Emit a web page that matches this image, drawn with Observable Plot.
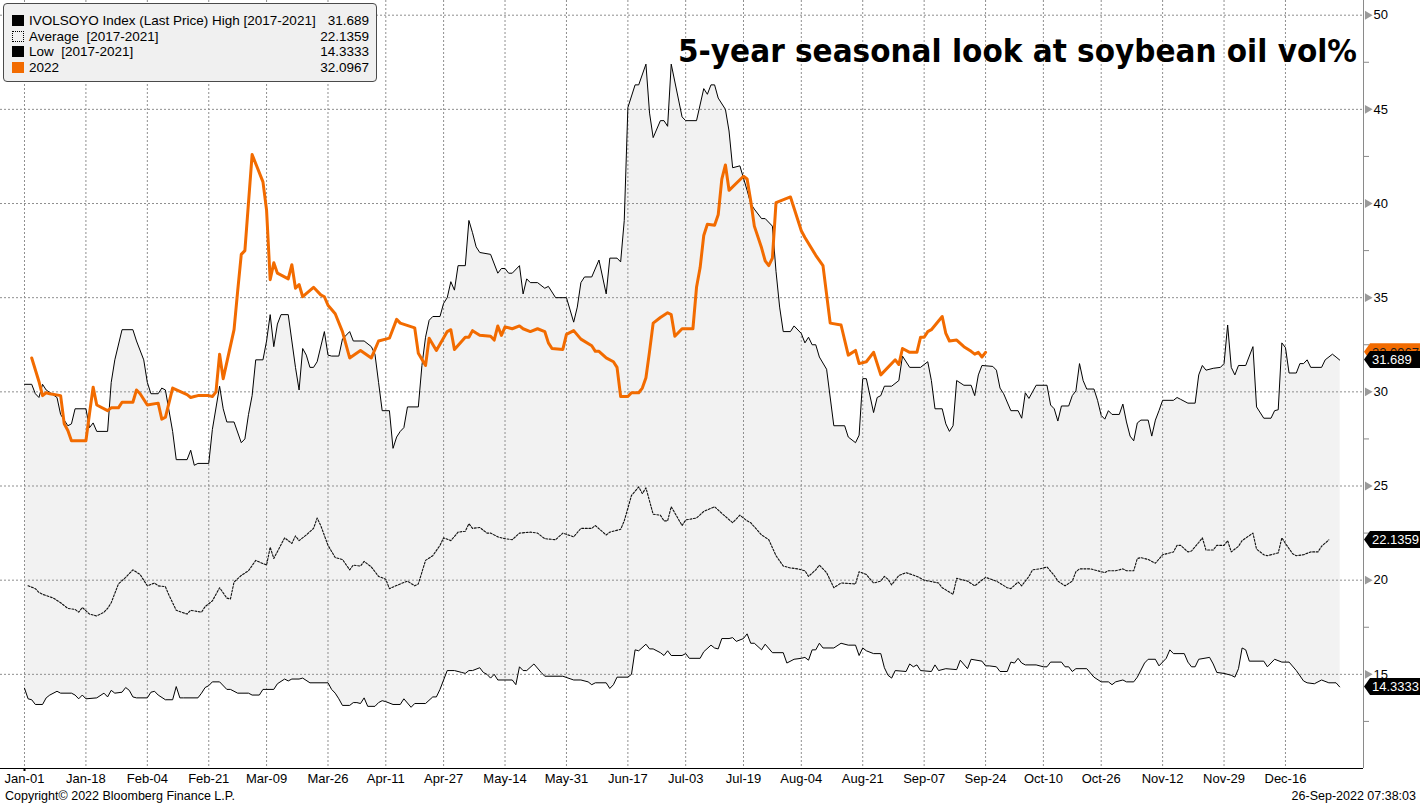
<!DOCTYPE html>
<html>
<head>
<meta charset="utf-8">
<script src="https://cdn.jsdelivr.net/npm/d3@7"></script>
<script src="https://cdn.jsdelivr.net/npm/@observablehq/plot@0.6"></script>
<style>
  html, body { margin: 0; padding: 0; background: #fff; }
  #wrap { position: relative; width: 1420px; height: 804px; overflow: hidden; font-family: "Liberation Sans", Arial, sans-serif; }
  #legend { position: absolute; left: 3px; top: 3px; width: 372px; height: 77px; background: #f0f0f0; border: 1px solid #4a4a4a; border-radius: 4px; box-sizing: content-box; }
  #legend .row { position: absolute; left: 0; right: 0; height: 15.5px; font-size: 13.5px; line-height: 15.5px; color: #000; white-space: pre; }
  #legend .sw { position: absolute; left: 8px; top: 2px; width: 12px; height: 11px; box-sizing: border-box; }
  #legend .lab { position: absolute; left: 25px; top: 0; }
  #legend .val { position: absolute; right: 7px; top: 0; }
</style>
</head>
<body>
<div id="wrap"></div>
<script>
// ---------- data (day-of-year index, value) ----------
const tickDays = [0,17,34,51,67,84,100,116,133,150,167,183,199,215,232,249,266,282,298,315,332,349];
const tickLabels = ["Jan-01","Jan-18","Feb-04","Feb-21","Mar-09","Mar-26","Apr-11","Apr-27","May-14","May-31","Jun-17","Jul-03","Jul-19","Aug-04","Aug-21","Sep-07","Sep-24","Oct-10","Oct-26","Nov-12","Nov-29","Dec-16"];
const yMajor = [15,20,25,30,35,40,45,50];
const yMinor = [12.5,17.5,22.5,27.5,32.5,37.5,42.5,47.5];

const seriesNames = ["IVOLSOYO Index (Last Price) High [2017-2021]", "Average  [2017-2021]", "Low  [2017-2021]", "2022"];
const lastValues = ["31.689", "22.1359", "14.3333", "32.0967"];

const high5y = [[0,30.4],[2,30.4],[3,29.9],[4,29.7],[5,30.4],[6,30.1],[9,29.7],[10,28.8],[12,28.2],[13,28.3],[14,29.1],[17,29.1],[18,28.1],[19,28.35],[20,27.9],[23,27.9],[24,30.5],[25,31.7],[27,33.3],[30,33.3],[31,32.7],[33,31.7],[34,30.5],[35,29.9],[37,29.9],[38,30.2],[39,30.1],[41,27.9],[42,26.4],[45,26.4],[46,26.9],[47,26.1],[48,26.2],[51,26.2],[52,28.0],[54,30.3],[55,29.1],[56,28.4],[58,28.4],[60,27.3],[61,27.5],[62,28.8],[63,29.8],[64,31.7],[66,31.7],[67,32.7],[68,34.1],[69,32.4],[70,33.6],[71,34.1],[73,34.1],[74,32.7],[75,31.3],[76,30.1],[77,32.3],[78,31.95],[79,31.3],[80,31.3],[81,31.6],[83,33.2],[84,31.95],[85,31.9],[87,31.9],[88,32.8],[90,33.2],[91,32.7],[94,32.7],[96,32.4],[97,32.0],[98,30.5],[99,29.0],[101,29.0],[102,27.0],[103,27.6],[104,27.9],[105,28.1],[106,29.2],[109,29.2],[110,31.4],[111,32.9],[112,33.8],[113,34.0],[115,34.0],[116,34.7],[117,35.0],[118,35.85],[119,35.4],[120,36.7],[122,36.7],[123,39.1],[124,38.45],[125,37.7],[126,37.4],[129,37.3],[131,36.3],[132,36.55],[133,36.55],[134,36.3],[135,36.3],[137,36.7],[138,35.2],[139,36.0],[140,35.8],[142,35.8],[144,35.5],[145,35.6],[147,35.0],[150,35.0],[152,33.7],[153,34.5],[154,35.8],[155,36.1],[157,36.1],[159,37.0],[161,35.2],[162,37.1],[164,37.1],[165,36.9],[166,39.1],[167,45.1],[169,46.3],[170,46.3],[172,47.4],[173,44.8],[174,43.5],[176,44.4],[177,44.4],[178,44.1],[179,47.4],[182,44.6],[183,44.4],[186,44.4],[188,46.1],[189,45.8],[190,46.3],[191,46.3],[192,45.6],[194,45.0],[195,43.85],[196,41.9],[198,42.0],[200,40.7],[201,40.0],[202,39.7],[204,39.2],[205,39.2],[207,38.8],[208,36.4],[209,34.5],[210,33.2],[212,33.2],[213,33.5],[215,33.1],[216,32.6],[217,32.9],[218,32.5],[219,32.5],[220,31.85],[222,31.2],[224,28.2],[227,28.2],[228,27.6],[230,27.3],[231,27.7],[232,30.7],[233,30.7],[235,28.9],[236,29.7],[237,29.8],[238,30.3],[240,30.3],[242,30.6],[243,31.9],[245,31.3],[248,31.3],[250,31.6],[251,30.6],[252,29.1],[254,29.1],[255,28.3],[256,27.9],[257,28.2],[258,30.6],[260,30.35],[262,30.35],[263,29.8],[264,30.9],[265,31.4],[268,31.35],[269,31.15],[270,30.2],[271,29.9],[273,29.0],[275,29.0],[276,28.6],[277,29.95],[278,29.65],[280,30.35],[283,30.35],[284,29.3],[285,29.1],[286,28.45],[287,29.25],[289,29.25],[290,29.8],[291,30.05],[292,31.5],[293,30.6],[294,30.15],[296,30.15],[297,29.55],[298,28.75],[299,28.55],[300,29.0],[301,28.8],[303,28.8],[304,29.35],[305,28.4],[306,27.65],[307,27.4],[308,28.35],[309,28.5],[311,28.5],[312,27.65],[313,28.5],[314,29.0],[315,29.55],[318,29.55],[319,29.7],[320,29.6],[322,29.4],[324,29.4],[325,30.9],[326,31.4],[327,31.15],[329,31.25],[331,31.3],[332,31.5],[333,33.55],[334,31.3],[335,30.9],[336,31.4],[338,31.4],[340,32.4],[341,29.2],[343,28.6],[345,28.6],[346,29.0],[347,29.05],[348,32.6],[349,32.35],[350,31.0],[352,31.0],[353,31.5],[354,31.5],[355,31.7],[356,31.3],[359,31.3],[360,31.7],[362,32.0],[363,31.85],[364,31.689]];

const low5y = [[0,14.26],[1,13.7],[2,13.65],[3,13.4],[5,13.4],[6,13.75],[7,13.9],[9,14.1],[10,14.0],[13,14.0],[14,13.9],[15,13.7],[16,13.9],[17,13.7],[20,13.75],[22,14.0],[23,13.8],[24,14.15],[25,14.0],[27,14.05],[28,14.3],[29,14.15],[30,13.8],[31,13.75],[34,13.75],[35,14.05],[36,14.1],[37,13.9],[39,13.65],[41,13.65],[42,14.35],[43,13.75],[44,13.75],[48,13.75],[49,14.0],[50,14.3],[51,14.4],[52,14.6],[54,14.6],[56,14.2],[57,14.2],[59,14.0],[62,14.0],[63,13.9],[65,13.9],[66,14.2],[69,14.2],[70,14.5],[72,14.75],[73,14.65],[74,14.75],[76,14.75],[77,14.8],[79,14.55],[84,14.55],[85,14.2],[86,14.0],[87,13.7],[88,13.35],[90,13.35],[91,13.5],[92,13.5],[93,13.45],[94,13.75],[95,13.3],[97,13.3],[98,13.5],[99,13.6],[100,13.55],[102,13.4],[104,13.4],[105,13.7],[107,13.25],[108,13.45],[111,13.45],[113,13.8],[114,13.8],[115,14.2],[117,15.2],[119,15.2],[121,15.1],[122,15.05],[123,15.2],[124,15.2],[126,15.35],[127,15.1],[128,15.0],[129,14.8],[130,15.0],[131,14.7],[135,14.7],[136,14.45],[137,15.4],[138,15.2],[139,15.2],[141,15.55],[143,15.1],[144,14.9],[149,14.9],[152,14.7],[154,14.7],[156,14.6],[157,14.45],[158,14.55],[161,14.55],[162,14.25],[163,14.45],[164,14.85],[167,14.85],[168,15.0],[169,16.3],[170,16.25],[172,16.6],[173,16.35],[174,16.35],[176,16.15],[177,16.0],[178,16.25],[179,16.0],[182,16.0],[183,16.1],[184,15.85],[187,15.85],[188,16.2],[190,16.55],[191,16.4],[192,16.35],[193,16.9],[195,16.9],[196,16.95],[197,16.75],[199,16.9],[200,17.15],[201,16.65],[202,16.65],[204,16.3],[205,16.6],[207,16.15],[210,16.15],[211,15.6],[213,15.8],[215,15.85],[216,15.9],[217,15.75],[218,16.3],[219,16.3],[220,16.65],[221,16.4],[224,16.4],[226,16.65],[228,16.55],[230,16.55],[231,16.0],[232,16.4],[233,16.25],[235,16.1],[237,16.1],[238,15.35],[239,14.95],[240,14.8],[241,15.2],[244,15.15],[245,15.55],[246,15.4],[247,15.5],[248,15.2],[251,15.15],[252,15.5],[253,15.2],[255,15.3],[258,15.25],[259,15.75],[261,15.3],[262,15.8],[265,15.7],[266,15.45],[267,15.45],[269,15.4],[270,15.15],[272,15.15],[273,15.65],[274,15.6],[275,15.85],[276,15.6],[277,15.5],[280,15.5],[282,15.4],[283,15.4],[284,15.65],[287,15.65],[288,15.4],[289,15.4],[290,15.15],[291,15.3],[294,15.3],[296,14.85],[298,14.6],[300,14.6],[301,14.45],[302,14.6],[304,14.7],[305,14.6],[307,14.6],[308,14.85],[310,15.6],[311,15.8],[313,15.8],[314,15.45],[316,15.85],[317,16.3],[318,16.1],[321,16.1],[322,15.65],[323,15.4],[324,15.4],[325,15.8],[328,15.9],[329,15.55],[330,15.1],[332,15.05],[334,14.95],[335,14.85],[336,15.3],[337,16.4],[338,16.3],[339,15.7],[343,15.7],[344,15.4],[346,15.8],[348,15.65],[350,15.65],[352,15.2],[354,14.65],[355,14.55],[357,14.5],[359,14.7],[361,14.55],[363,14.55],[364,14.3333]];

const avg5y = [[1,19.7],[3,19.55],[4,19.35],[5,19.25],[8,19.05],[10,18.8],[12,18.5],[14,18.45],[15,18.3],[16,18.55],[18,18.2],[20,18.1],[22,18.3],[23,18.5],[24,18.8],[26,19.8],[28,20.15],[30,20.55],[32,20.3],[34,19.7],[36,19.85],[37,19.7],[39,19.65],[40,19.2],[42,18.4],[45,18.2],[46,18.4],[49,18.3],[50,18.6],[52,18.9],[54,19.6],[56,19.05],[57,19.0],[58,19.9],[60,20.25],[62,20.5],[64,21.05],[67,20.8],[68,21.75],[69,21.15],[72,22.25],[74,21.95],[75,22.35],[76,22.1],[78,22.4],[80,22.75],[81,23.3],[82,22.9],[84,21.85],[86,21.2],[88,21.1],[90,20.55],[91,20.8],[93,20.75],[94,21.0],[96,20.7],[98,20.2],[100,20.05],[101,19.55],[104,19.8],[106,19.95],[108,19.7],[109,19.8],[111,21.05],[113,21.3],[115,21.85],[116,22.25],[118,22.1],[120,22.55],[122,22.6],[123,23.0],[124,22.75],[126,22.8],[128,22.5],[129,22.5],[131,22.3],[133,22.2],[135,22.15],[137,22.5],[140,22.55],[142,22.5],[144,22.2],[147,22.15],[149,22.5],[152,22.3],[154,22.75],[157,22.75],[158,22.9],[161,22.4],[162,22.55],[165,22.7],[166,23.15],[168,24.5],[170,24.95],[171,24.6],[172,24.9],[173,24.2],[174,23.5],[176,23.45],[177,23.15],[178,23.15],[179,23.9],[182,22.9],[183,23.2],[186,23.3],[188,23.65],[191,23.9],[193,23.55],[196,23.05],[198,23.45],[200,23.15],[201,23.05],[204,22.4],[206,22.15],[208,21.3],[210,20.75],[212,20.65],[214,20.6],[216,20.5],[217,20.2],[219,20.55],[220,20.8],[222,20.4],[224,19.6],[226,19.85],[230,19.8],[231,20.45],[233,20.3],[235,19.85],[237,19.95],[238,20.2],[239,20.05],[240,19.75],[242,20.25],[244,20.4],[247,20.2],[249,20.0],[253,19.85],[254,19.6],[257,19.25],[258,20.1],[261,19.95],[263,19.7],[266,20.15],[269,19.95],[272,19.6],[273,19.55],[275,19.9],[276,19.7],[278,20.2],[279,20.55],[281,20.6],[283,20.7],[285,20.25],[286,19.95],[288,19.7],[290,19.95],[291,20.45],[292,20.6],[295,20.6],[297,20.5],[299,20.4],[300,20.5],[302,20.5],[304,20.6],[305,20.5],[307,20.5],[308,21.15],[309,21.2],[311,21.1],[313,20.9],[315,21.35],[318,21.5],[319,21.85],[320,21.85],[322,21.5],[323,21.55],[325,22.0],[326,22.25],[327,21.6],[329,21.6],[330,21.85],[332,21.85],[333,22.1],[334,21.5],[336,21.8],[337,22.1],[340,22.5],[341,21.65],[343,21.35],[344,21.3],[347,21.45],[348,22.25],[349,21.95],[351,21.4],[352,21.3],[354,21.35],[356,21.5],[358,21.5],[359,21.8],[361,22.1359]];

const y2022 = [[2,31.8],[4,30.55],[5,29.8],[6,29.95],[7,29.9],[10,29.8],[11,28.3],[12,27.95],[13,27.4],[17,27.4],[18,28.85],[19,30.25],[20,29.3],[23,29.0],[24,29.15],[26,29.15],[27,29.45],[30,29.45],[31,30.1],[32,29.9],[34,29.3],[37,29.4],[38,28.55],[39,28.65],[41,30.2],[45,29.85],[46,29.7],[47,29.75],[48,29.8],[51,29.8],[52,29.75],[53,30.0],[54,32.0],[55,30.7],[58,33.3],[59,35.35],[60,37.3],[61,37.5],[63,42.6],[66,41.15],[67,39.65],[68,35.95],[69,36.85],[70,36.3],[73,36.0],[74,36.75],[75,35.5],[76,35.7],[77,35.05],[80,35.55],[82,35.15],[83,35.05],[84,34.6],[86,34.15],[88,33.2],[90,31.8],[93,32.2],[96,31.8],[98,32.7],[101,32.85],[103,33.85],[104,33.65],[108,33.4],[109,32.05],[111,31.4],[112,32.85],[114,32.2],[117,33.2],[118,33.3],[119,32.25],[122,32.9],[123,32.9],[124,33.25],[126,33.0],[129,32.95],[130,32.75],[131,33.5],[132,33.0],[133,33.45],[135,33.35],[137,33.5],[138,33.35],[140,33.2],[142,33.35],[144,33.2],[145,32.6],[146,32.3],[149,32.25],[150,33.05],[152,33.25],[154,32.8],[157,32.45],[158,32.15],[159,32.15],[161,31.8],[163,31.6],[164,31.3],[165,29.75],[167,29.75],[168,29.95],[170,29.95],[171,30.2],[172,30.75],[173,32.15],[174,33.65],[176,33.95],[178,34.2],[179,34.1],[180,32.95],[182,33.35],[185,33.35],[186,35.55],[187,36.6],[188,38.3],[189,38.9],[191,38.85],[192,39.4],[193,41.3],[194,42.05],[195,40.7],[199,41.45],[200,41.3],[201,40.15],[202,38.8],[204,37.65],[205,36.95],[206,36.7],[207,37.1],[208,40.05],[212,40.35],[215,38.55],[216,38.2],[219,37.25],[221,36.7],[223,33.65],[226,33.55],[228,31.95],[230,32.2],[231,31.5],[233,31.6],[235,32.1],[237,30.9],[241,31.7],[242,31.45],[243,32.3],[245,32.1],[247,32.1],[248,32.9],[249,32.9],[250,33.2],[251,33.3],[254,34.0],[255,33.1],[256,32.7],[258,32.75],[260,32.4],[262,32.15],[263,32.0],[264,32.1],[265,31.85],[266,32.0967]];

// ---------- build ----------
const toObj = a => a.map(([d, v]) => ({d, v}));
const highD = toObj(high5y), lowD = toObj(low5y), avgD = toObj(avg5y), curD = toObj(y2022);
const band = highD.concat(lowD.slice().reverse());

const xDomain = [-6.64, 370.6];
const yDomain = [10, 50.78];
const GRID = "#8f8f8f";
const ORANGE = "#f26b00";
const FONT = "Liberation Sans, Arial, sans-serif";

const plot = Plot.plot({
  width: 1420,
  height: 804,
  marginLeft: 0,
  marginRight: 57,
  marginTop: 0,
  marginBottom: 36,
  x: {domain: xDomain, label: null},
  y: {domain: yDomain, label: null},
  style: {fontFamily: FONT, fontSize: "13px", color: "#000", background: "#fff", overflow: "visible"},
  marks: [
    Plot.line(band, {x: "d", y: "v", fill: "#f2f2f2", stroke: "none"}),
    Plot.gridX(tickDays, {stroke: GRID, strokeOpacity: 1, strokeWidth: 1, strokeDasharray: "2,2"}),
    Plot.gridY(yMajor, {stroke: GRID, strokeOpacity: 1, strokeWidth: 1, strokeDasharray: "2,2"}),
    Plot.line(avgD, {x: "d", y: "v", stroke: "#111", strokeWidth: 1.1, strokeDasharray: "2,1.6"}),
    Plot.line(lowD, {x: "d", y: "v", stroke: "#000", strokeWidth: 1}),
    Plot.line(highD, {x: "d", y: "v", stroke: "#000", strokeWidth: 1}),
    Plot.line(curD, {x: "d", y: "v", stroke: ORANGE, strokeWidth: 3, strokeLinejoin: "round"}),
    Plot.ruleX([xDomain[1]], {stroke: "#8a8a8a", strokeWidth: 1}),
    Plot.ruleY([yDomain[0]], {stroke: "#000", strokeWidth: 1}),
    Plot.axisX({ticks: tickDays, tickFormat: d => tickLabels[tickDays.indexOf(d)], tickSize: 0, tickPadding: 5, fontSize: 13}),
    Plot.axisX({ticks: [0], tickFormat: () => "", tickSize: 3, strokeWidth: 2}),
    Plot.axisY({anchor: "right", ticks: yMajor, tickSize: 0, tickPadding: 10, fontSize: 13}),
    Plot.axisY({anchor: "right", ticks: yMinor, tickSize: 5, tickFormat: () => "", stroke: "#8a8a8a"}),
    Plot.dot(yMajor, {y: d => d, frameAnchor: "right", symbol: "triangle", rotate: 90, r: 3.3, fill: "#9a9a9a", stroke: "none", dx: 4})
  ]
});

const wrap = document.getElementById("wrap");
wrap.appendChild(plot);

// ---------- right-side value tags, placed through the plot's scales ----------
const svg = d3.select(plot);
const ys = plot.scale("y"), xs = plot.scale("x");
const xAxisPos = xs.apply(xDomain[1]);
function tag(v, label, bg, fg) {
  const yy = ys.apply(v);
  const x0 = xAxisPos + 1;
  const h = 8.5;
  const g = svg.append("g");
  g.append("path")
    .attr("d", `M${x0},${yy} L${x0 + 6},${yy - h} H1420 V${yy + h} H${x0 + 6} Z`)
    .attr("fill", bg);
  g.append("text")
    .attr("x", x0 + 8).attr("y", yy).attr("dy", "0.36em")
    .attr("text-anchor", "start")
    .attr("fill", fg).attr("font-size", 13).attr("font-family", FONT)
    .text(label);
}
tag(+lastValues[3], lastValues[3], ORANGE, "#1a1a1a");
tag(+lastValues[0], lastValues[0], "#000", "#fff");
tag(+lastValues[1], lastValues[1], "#000", "#fff");
tag(+lastValues[2], lastValues[2], "#000", "#fff");

// ---------- title & footer ----------
svg.append("text")
  .attr("x", 678).attr("y", 62)
  .attr("text-anchor", "start")
  .attr("textLength", 679).attr("lengthAdjust", "spacingAndGlyphs")
  .attr("font-family", "DejaVu Sans, sans-serif").attr("font-weight", "bold").attr("font-size", 32)
  .attr("fill", "#000")
  .text("5-year seasonal look at soybean oil vol%");
svg.append("text")
  .attr("x", 5).attr("y", 800)
  .attr("text-anchor", "start")
  .attr("font-family", FONT).attr("font-size", 12.5).attr("fill", "#000")
  .text("Copyright\u00A9 2022 Bloomberg Finance L.P.");
svg.append("text")
  .attr("x", 1416).attr("y", 800).attr("text-anchor", "end")
  .attr("font-family", FONT).attr("font-size", 12.5).attr("fill", "#000")
  .text("26-Sep-2022 07:38:03");

// ---------- legend ----------
const swatches = [
  {bg: "#000", border: "none"},
  {bg: "transparent", border: "1px dotted #000"},
  {bg: "#000", border: "none"},
  {bg: ORANGE, border: "none"}
];
const legend = document.createElement("div");
legend.id = "legend";
seriesNames.forEach((name, i) => {
  const row = document.createElement("div");
  row.className = "row";
  row.style.top = (9 + i * 15.5) + "px";
  const sw = document.createElement("span");
  sw.className = "sw";
  sw.style.background = swatches[i].bg;
  sw.style.border = swatches[i].border;
  const lab = document.createElement("span");
  lab.className = "lab";
  lab.textContent = name;
  const val = document.createElement("span");
  val.className = "val";
  val.textContent = lastValues[i];
  row.append(sw, lab, val);
  legend.appendChild(row);
});
wrap.appendChild(legend);
</script>
</body>
</html>
